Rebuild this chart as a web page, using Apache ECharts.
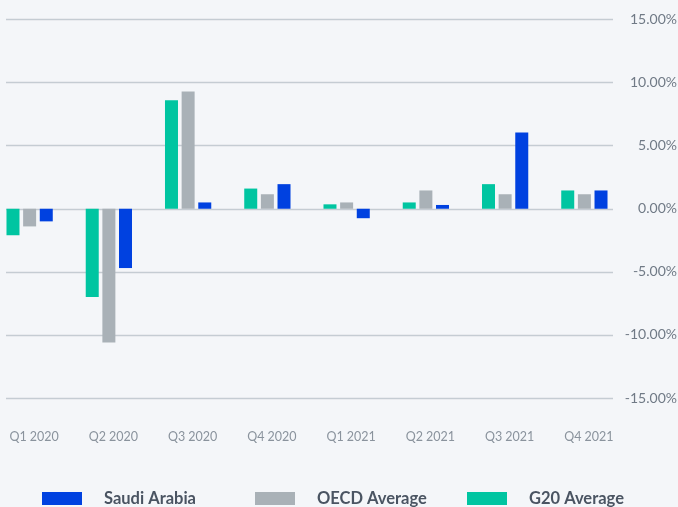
<!DOCTYPE html>
<html>
<head>
<meta charset="utf-8">
<script src="https://cdn.jsdelivr.net/npm/echarts@6/dist/echarts.min.js"></script>
<style>
  html, body { margin: 0; padding: 0; background: #f4f6f9; }
  #main { width: 678px; height: 507px; }
</style>
</head>
<body>
<div id="main"></div>
<script>
// quarters on the x axis
var quarters = ['Q1 2020', 'Q2 2020', 'Q3 2020', 'Q4 2020', 'Q1 2021', 'Q2 2021', 'Q3 2021', 'Q4 2021'];
// growth in %
var g20 = [-2.1, -7.0, 8.6, 1.6, 0.35, 0.5, 1.95, 1.45];
var oecd = [-1.4, -10.6, 9.3, 1.15, 0.5, 1.45, 1.15, 1.15];
var saudi = [-1.0, -4.7, 0.5, 1.95, -0.75, 0.3, 6.05, 1.45];
var yTicks = { min: -15, max: 15, step: 5 };

var colorG20 = '#00c5a1', colorOecd = '#a9b1b7', colorSaudi = '#0041e0';

var myChart = echarts.init(document.getElementById('main'));

function legendAt(name, left) {
    return {
        data: [name],
        left: left,
        top: 490,
        padding: 0,
        itemWidth: 40,
        itemHeight: 13,
        icon: 'rect',
        selectedMode: false,
        textStyle: {
            fontFamily: 'Lato',
            fontSize: 16.5,
            fontWeight: 'bold',
            color: '#4a5462',
            padding: [0, 0, 0, 17]
        }
    };
}

function barSeries(name, data, color) {
    return {
        name: name,
        type: 'bar',
        xAxisIndex: 0,
        yAxisIndex: 0,
        data: data,
        barWidth: 13,
        barGap: '28%',
        itemStyle: { color: color }
    };
}

var option = {
    backgroundColor: '#f4f6f9',
    animation: false,
    grid: [
        // bars (band starts a little left of the canvas, as in the original)
        { left: -10, right: 54, top: 19.5, bottom: 109, outerBoundsMode: 'none' },
        // gridlines + y labels
        { left: 6, right: 65, top: 19.5, bottom: 109, outerBoundsMode: 'none' }
    ],
    legend: [
        legendAt('Saudi Arabia', 42),
        legendAt('OECD Average', 255),
        legendAt('G20 Average', 467)
    ],
    xAxis: [
        {
            type: 'category',
            gridIndex: 0,
            data: quarters,
            axisLine: { show: false },
            axisTick: { show: false },
            axisLabel: {
                margin: 32,
                fontFamily: 'Lato',
                fontSize: 12.5,
                color: '#8a939d',
                padding: [0, 0, 0, 9]
            }
        },
        {
            type: 'value',
            gridIndex: 1,
            show: false
        }
    ],
    yAxis: [
        {
            type: 'value',
            gridIndex: 0,
            min: yTicks.min,
            max: yTicks.max,
            interval: yTicks.step,
            show: false
        },
        {
            type: 'value',
            gridIndex: 1,
            position: 'right',
            min: yTicks.min,
            max: yTicks.max,
            interval: yTicks.step,
            axisLine: { show: false },
            axisTick: { show: false },
            splitLine: { lineStyle: { color: '#c5ccd3', width: 1.3 } },
            axisLabel: {
                align: 'right',
                margin: 64,
                fontFamily: 'Lato',
                fontSize: 14,
                color: '#707a86',
                formatter: function (v) { return v.toFixed(2) + '%'; }
            }
        }
    ],
    series: [
        barSeries('G20 Average', g20, colorG20),
        barSeries('OECD Average', oecd, colorOecd),
        barSeries('Saudi Arabia', saudi, colorSaudi)
    ]
};
myChart.setOption(option);
</script>
</body>
</html>
